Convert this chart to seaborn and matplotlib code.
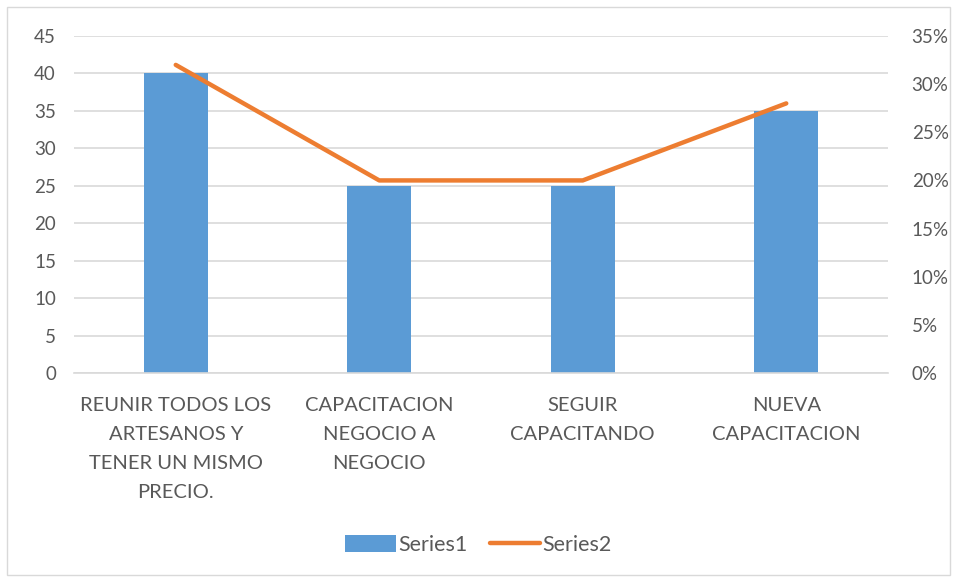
import matplotlib
matplotlib.use('Agg')
import matplotlib.pyplot as plt
import pandas as pd
import seaborn as sns
from matplotlib.patches import Rectangle, Patch
from matplotlib.lines import Line2D
from matplotlib.ticker import PercentFormatter

# Data
categories = ['REUNIR TODOS LOS\nARTESANOS Y\nTENER UN MISMO\nPRECIO.',
              'CAPACITACION\nNEGOCIO A\nNEGOCIO',
              'SEGUIR\nCAPACITANDO',
              'NUEVA\nCAPACITACION']
series1 = [40, 25, 25, 35]
series2 = [0.32, 0.20, 0.20, 0.28]

sns.set_style('white')
plt.rcParams['font.family'] = ['Lato', 'DejaVu Sans']
text_color = '#595959'
grid_color = '#D9D9D9'

df = pd.DataFrame({'cat': categories, 's1': series1, 's2': series2})

fig = plt.figure(figsize=(9.57, 5.79), dpi=100)
ax = fig.add_axes([74/957, 1 - 373/579, (888 - 74)/957, (373 - 36)/579])

sns.barplot(data=df, x='cat', y='s1', color='#5B9BD5', width=0.315,
            saturation=1, linewidth=0, ax=ax, zorder=2)
ax.set_ylim(0, 45)
ax.set_yticks(range(0, 50, 5))
ax.set_xlim(-0.5, 3.5)
ax.set_xlabel('')
ax.set_ylabel('')
ax.yaxis.grid(True, color=grid_color, linewidth=1.2, zorder=0)
ax.set_axisbelow(True)
for s in ['top', 'left', 'right']:
    ax.spines[s].set_visible(False)
ax.spines['bottom'].set_color(grid_color)
ax.spines['bottom'].set_linewidth(1.2)
ax.tick_params(axis='y', length=0, pad=13, labelsize=13.5, labelcolor=text_color)
ax.tick_params(axis='x', length=0, pad=17, labelsize=14.5, labelcolor=text_color)
for lbl in ax.get_xticklabels():
    lbl.set_linespacing(1.86)
    lbl.set_verticalalignment('top')

ax2 = ax.twinx()
ax2.plot(range(len(categories)), df['s2'], color='#ED7D31', linewidth=3.2,
         solid_capstyle='round', zorder=3)
ax2.set_ylim(0, 0.35)
ax2.set_yticks([i * 0.05 for i in range(8)])
ax2.yaxis.set_major_formatter(PercentFormatter(1.0, decimals=0))
ax2.tick_params(axis='y', length=0, pad=17, labelsize=13.5, labelcolor=text_color)
for s in ['top', 'left', 'right', 'bottom']:
    ax2.spines[s].set_visible(False)

# Legend
handles = [Patch(facecolor='#5B9BD5', edgecolor='none', label='Series1'),
           Line2D([0], [0], color='#ED7D31', linewidth=3.2,
                  solid_capstyle='round', label='Series2')]
fig.legend(handles=handles, loc='center', bbox_to_anchor=(0.5, 1 - 545/579),
           ncol=2, frameon=False, fontsize=15.5, labelcolor=text_color,
           handlelength=2.35, handleheight=0.8, handletextpad=0.1,
           columnspacing=1.05)

# Outer chart border
fig.patches.append(Rectangle((7/957, 4/579), 943/957, 568/579,
                             transform=fig.transFigure, fill=False,
                             edgecolor=grid_color, linewidth=1.0))

fig.savefig('out.png', dpi=100)
